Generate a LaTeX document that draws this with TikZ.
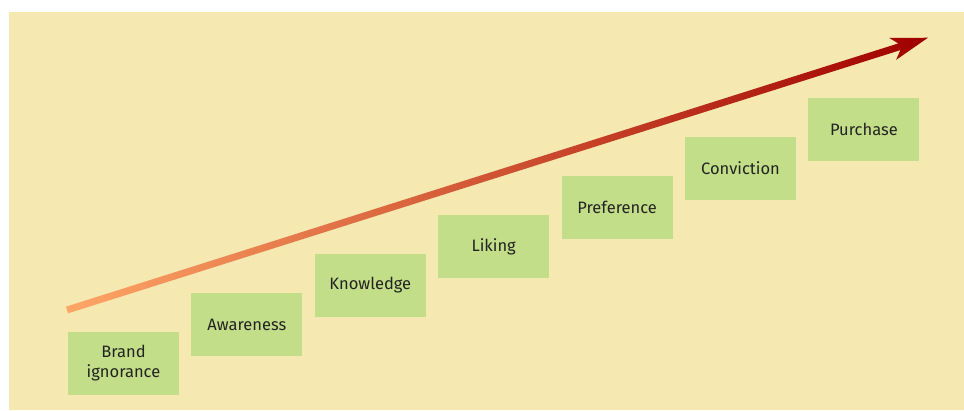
\documentclass[tikz,border=0pt]{standalone}
\usepackage{fontspec}
\setmainfont{Fira Sans}
\usepackage{tikz}
\usetikzlibrary{positioning}
\usepackage{xcolor}
\definecolor{bgyellow}{RGB}{245,232,176}
\definecolor{stagegreen}{RGB}{195,222,136}
\definecolor{stagetext}{RGB}{35,35,35}
\definecolor{arrowlight}{RGB}{255,166,102}
\definecolor{arrowmid}{RGB}{222,92,48}
\definecolor{arrowdark}{RGB}{160,0,0}
\tikzstyle{stage} = [rectangle, minimum width=111pt, minimum height=63pt, inner sep=0pt, align=center, fill=stagegreen, text=stagetext, font=\fontsize{16.5}{20}\selectfont]

\begin{document}
\begin{tikzpicture}[x=1pt, y=1pt]
\useasboundingbox (0,0) rectangle (964,410);
% background panel
\fill[bgyellow] (9,0) rectangle (964,398);

% the steps, each one up and to the right of the last
\node (brand) [stage] at (123.5,46.5) {Brand\\ignorance};
\node (awareness) [stage, right=12pt of brand, yshift=39pt] {Awareness};
\node (knowledge) [stage, right=12pt of awareness, yshift=39pt] {Knowledge};
\node (liking) [stage, right=12pt of knowledge, yshift=39pt] {Liking};
\node (preference) [stage, right=12pt of liking, yshift=39pt] {Preference};
\node (conviction) [stage, right=12pt of preference, yshift=39pt] {Conviction};
\node (purchase) [stage, right=12pt of conviction, yshift=39pt] {Purchase};

% rising arrow with colour fade
\coordinate (tail) at (67,100);
\coordinate (head) at (928,372);
\begin{scope}[shift={(tail)}, rotate=17.55]
\shade[left color=arrowlight, middle color=arrowmid, right color=arrowdark]
  (0,-3.5) -- (873,-3.5) -- (866,-11.5) -- (903,0) -- (866,11.5) -- (873,3.5) -- (0,3.5) -- cycle;
\end{scope}
\end{tikzpicture}
\end{document}
